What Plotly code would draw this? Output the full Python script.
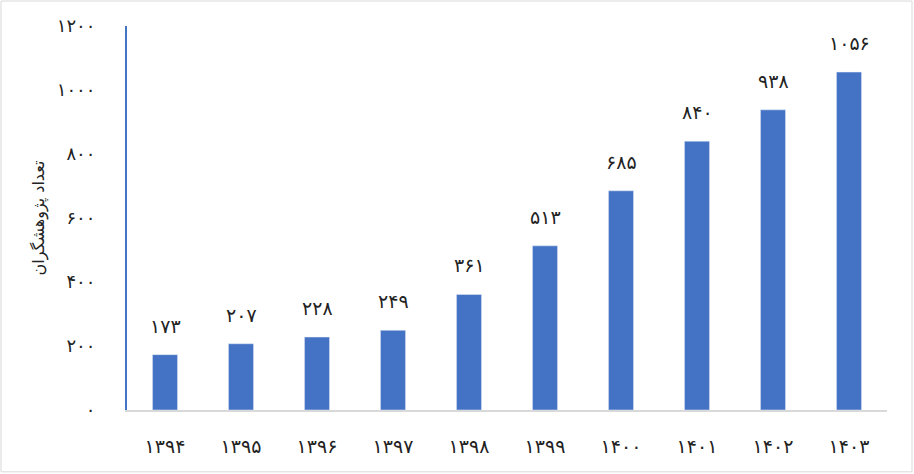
import plotly.graph_objects as go

# data
years = ["۱۳۹۴", "۱۳۹۵", "۱۳۹۶", "۱۳۹۷", "۱۳۹۸", "۱۳۹۹", "۱۴۰۰", "۱۴۰۱", "۱۴۰۲", "۱۴۰۳"]
researchers = [173, 207, 228, 249, 361, 513, 685, 840, 938, 1056]
y_ticks = [0, 200, 400, 600, 800, 1000, 1200]

PERSIAN = str.maketrans("0123456789", "۰۱۲۳۴۵۶۷۸۹")


def fa(n):
    return str(n).translate(PERSIAN)


FONT = "DejaVu Sans"
BLUE = "#4472C4"

fig = go.Figure()
fig.add_trace(
    go.Bar(x=years, y=researchers, marker=dict(color=BLUE), width=0.33, hoverinfo="skip")
)

# value labels above each bar
for yr, val in zip(years, researchers):
    fig.add_annotation(
        x=yr, y=val, text=fa(val), showarrow=False, yanchor="bottom", yshift=16,
        font=dict(family=FONT, size=19, color="#222222"),
    )

# light frame round the whole picture
fig.add_shape(
    type="rect", xref="paper", yref="paper",
    x0=-0.1658, x1=1.0329, y0=-0.161, y1=1.065,
    line=dict(color="#d9d9d9", width=1), fillcolor="rgba(0,0,0,0)", layer="below",
)

fig.update_layout(
    width=914,
    height=474,
    margin=dict(l=127, r=27, t=26, b=64),
    paper_bgcolor="white",
    plot_bgcolor="white",
    showlegend=False,
    font=dict(family=FONT, size=18, color="#222222"),
    xaxis=dict(
        showgrid=False,
        showline=True,
        linecolor="#d9d9d9",
        linewidth=2,
        ticks="",
        ticklabelstandoff=18,
        tickfont=dict(size=19),
    ),
    yaxis=dict(
        range=[0, 1200],
        tickvals=y_ticks,
        ticktext=[fa(v) for v in y_ticks],
        showgrid=False,
        zeroline=False,
        showline=True,
        linecolor=BLUE,
        linewidth=2,
        ticks="",
        ticklabelstandoff=26,
        tickfont=dict(size=18),
        title=dict(text="تعداد پژوهشگران", font=dict(size=16), standoff=8),
    ),
)

fig.write_html(
    "out.html",
    config={"displayModeBar": False},
    post_script="document.body.style.margin='0';",
)
